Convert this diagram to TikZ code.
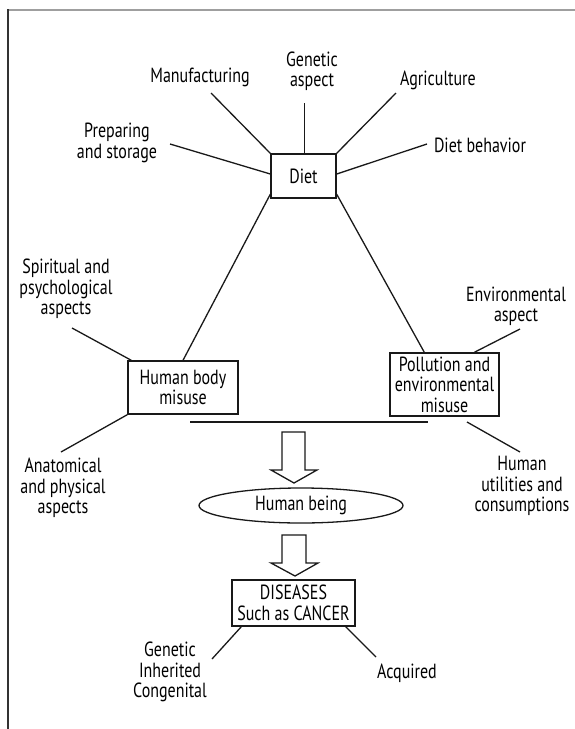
\documentclass[tikz,border=0pt]{standalone}
\usepackage{fontspec}
\setmainfont[FakeStretch=0.78]{PT Sans}
\usetikzlibrary{shapes.geometric}
\begin{document}
\begin{tikzpicture}[x=1pt,y=-1pt,
  lbl/.style={font=\fontsize{20.5}{20.5}\selectfont, align=center, inner sep=0pt, text=black},
  box/.style={draw=black!90, line width=1.35pt, font=\fontsize{20.5}{20.5}\selectfont, align=center, inner sep=0pt, text=black},
  ln/.style={draw=black!90, line width=1.3pt},
  blockarrow/.style={draw=black!90, line width=1.3pt, fill=white, line join=miter}
]
\useasboundingbox (0,0) rectangle (575,729);
% frame
\draw[gray!75, line width=1.8pt] (8,10) -- (575,10);
\draw[black!80, line width=1.3pt] (8,9.2) -- (8,729);

% central boxes
\node[box, minimum width=65pt, minimum height=44pt] (diet) at (303.5,176) {Diet};
\node[box, minimum width=110pt, minimum height=53pt] (hb) at (183,387.5) {Human body\\misuse};
\node[box, minimum width=109pt, minimum height=63pt] (pb) at (444.5,384.5) {Pollution and\\environmental\\misuse};
\node[draw=black!90, line width=1.3pt, ellipse, minimum width=204pt, minimum height=35pt, inner sep=0pt,
      font=\fontsize{20.5}{20.5}\selectfont, text=black] (being) at (301,505.5) {Human being};
\node[box, minimum width=123pt, minimum height=46pt] (dis) at (293.5,603) {DISEASES\\Such as CANCER};

% labels
\node[lbl] (manu) at (200,77) {Manufacturing};
\node[lbl] (gen) at (312,71) {Genetic\\aspect};
\node[lbl] (agri) at (438,80) {Agriculture};
\node[lbl] (prep) at (117,143) {Preparing\\and storage};
\node[lbl] (behav) at (480,145) {Diet behavior};
\node[lbl] (spir) at (66,289) {Spiritual and\\psychological\\aspects};
\node[lbl] (env) at (516,306.5) {Environmental\\aspect};
\node[lbl] (anat) at (63,488) {Anatomical\\and physical\\aspects};
\node[lbl] (util) at (522,486) {Human\\utilities and\\consumptions};
\node[lbl] (congen) at (170,672) {Genetic\\Inherited\\Congenital};
\node[lbl] (acq) at (407,673) {Acquired};

% free ends of connectors
\coordinate (m1) at (211,93);
\coordinate (g1) at (304.5,103);
\coordinate (a1) at (396,93);
\coordinate (p1) at (170,144);
\coordinate (d1) at (427,144);
\coordinate (s1) at (72,328);
\coordinate (an1) at (61,452);
\coordinate (e1) at (520,329);
\coordinate (h1) at (190,422);
\coordinate (h2) at (428,422);
\coordinate (u0) at (467,422);
\coordinate (u1) at (520,452);
\coordinate (c1) at (212,659);
\coordinate (q1) at (376,657);

% connectors around Diet
\draw[ln] (diet.north west) -- (m1);
\draw[ln] (diet.north -| g1) -- (g1);
\draw[ln] (diet.north east) -- (a1);
\draw[ln] ([yshift=2pt]diet.west) -- (p1);
\draw[ln] ([yshift=2pt]diet.east) -- (d1);
\draw[ln] ([yshift=4.5pt]diet.south west) -- (hb.north);
\draw[ln] ([yshift=4.5pt]diet.south east) -- ([xshift=35pt]pb.north west);

% connectors around the two misuse boxes
\draw[ln] (s1) -- ([xshift=4pt]hb.north west);
\draw[ln] (hb.south west) -- (an1);
\draw[ln] ([xshift=85pt]pb.north west) -- (e1);
\draw[ln] (h1) -- (h2);
\draw[ln] (u0) -- (u1);

% block arrows
\draw[blockarrow] (282,432) -- (305,432) -- (305,470) -- (317,470) -- (294,483) -- (271,470) -- (282,470) -- cycle;
\draw[blockarrow] (282,535) -- (306,535) -- (306,563) -- (318,563) -- (295,576) -- (271,563) -- (282,563) -- cycle;

% connectors below diseases
\draw[ln] ([xshift=10pt]dis.south west) -- (c1);
\draw[ln] ([xshift=-10pt]dis.south east) -- (q1);
\end{tikzpicture}
\end{document}
